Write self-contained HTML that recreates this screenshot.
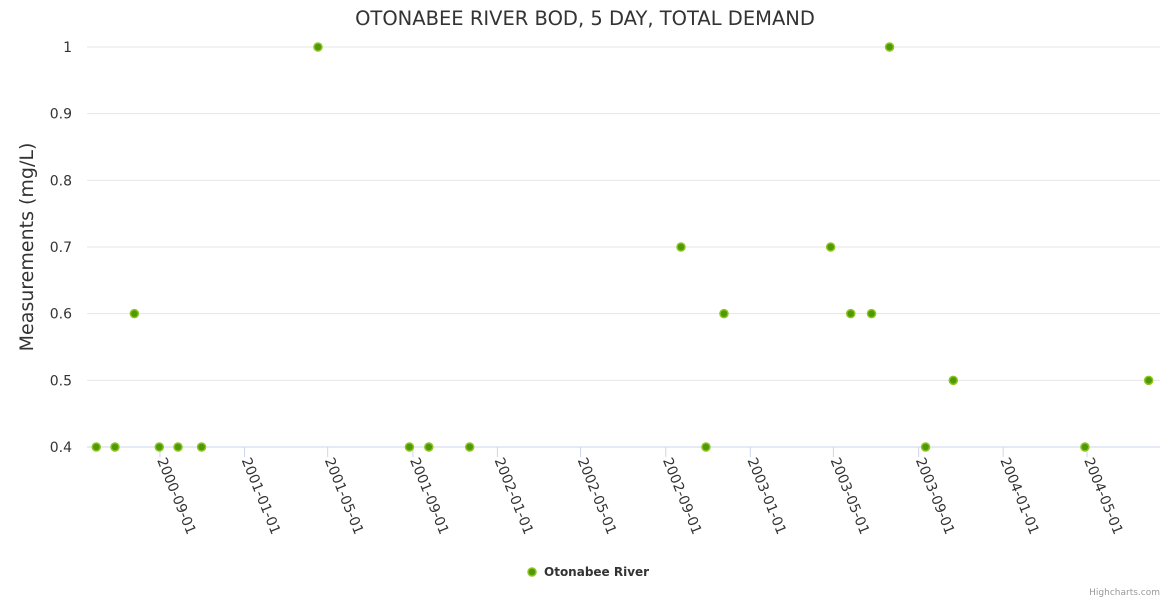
<!DOCTYPE html>
<html><head><meta charset="utf-8"><style>
body{margin:0;background:#fff;font-family:"DejaVu Sans","Liberation Sans",sans-serif}
</style></head><body>
<svg id="c" width="1170" height="600" xmlns="http://www.w3.org/2000/svg" font-family="DejaVu Sans, Liberation Sans, sans-serif">
<text x="585" y="25" text-anchor="middle" font-size="19.5" fill="#333">OTONABEE RIVER BOD, 5 DAY, TOTAL DEMAND</text>
<text transform="translate(33,247) rotate(-90)" text-anchor="middle" font-size="19" fill="#333">Measurements (mg/L)</text>
<g id="grid"></g><g id="xaxis"></g><g id="pts"></g>
<g>
<circle cx="532" cy="572" r="4" fill="#4e9a06" stroke="#8fc31f" stroke-width="1.5"/>
<text x="544" y="576" font-size="12" font-weight="bold" fill="#333">Otonabee River</text></g>
<text x="1160" y="595" text-anchor="end" font-size="9" fill="#999">Highcharts.com</text>
</svg>
<script>
const dates=["2000-06-01","2000-06-28","2000-07-26","2000-08-31","2000-09-27","2000-10-31","2001-04-17","2001-08-27","2001-09-24","2001-11-22","2002-09-23","2002-10-29","2002-11-24","2003-04-27","2003-05-26","2003-06-25","2003-07-21","2003-09-11","2003-10-21","2004-04-28","2004-07-29"];
const values=[0.4,0.4,0.6,0.4,0.4,0.4,1,0.4,0.4,0.4,0.7,0.4,0.6,0.7,0.6,0.6,1,0.4,0.5,0.4,0.5];
const yTicks=[0.4,0.5,0.6,0.7,0.8,0.9,1];
const xTicks=["2000-09-01","2001-01-01","2001-05-01","2001-09-01","2002-01-01","2002-05-01","2002-09-01","2003-01-01","2003-05-01","2003-09-01","2004-01-01","2004-05-01"];
const NS="http://www.w3.org/2000/svg";
const t=d=>Date.parse(d+"T00:00:00Z");
const t0=t("2000-09-01"),t1=t("2004-05-01");
const xs=d=>160+(t(d)-t0)*(1087-160)/(t1-t0);
const ys=v=>447-(v-0.4)*(400/0.6);
function mk(tag,a,p){const e=document.createElementNS(NS,tag);for(const k in a)e.setAttribute(k,a[k]);p.appendChild(e);return e;}
const g=document.getElementById('grid');
yTicks.forEach(v=>{
const l=mk('line',{x1:87,x2:1160,y1:ys(v),y2:ys(v),stroke:v===0.4?'#ccd6eb':'#e6e6e6'},g);


const tx=mk('text',{x:72,y:ys(v)+5,'text-anchor':'end','font-size':14,fill:'#333'},g);
tx.textContent=String(v);


});
const xa=document.getElementById('xaxis');
xTicks.forEach(d=>{
const x=xs(d);
const l=mk('line',{x1:x,x2:x,y1:447,y2:457,stroke:'#ccd6eb'},xa);


const tx=mk('text',{transform:`translate(${x-3},${460}) rotate(68)`,'font-size':14,fill:'#333'},xa);
tx.textContent=d;


});
const p=document.getElementById('pts');
dates.forEach((d,i)=>{
const c=mk('circle',{cx:xs(d),cy:ys(values[i]),r:4,fill:'#4e9a06',stroke:'#8fc31f','stroke-width':1.5},p);


});
</script>
</body></html>
